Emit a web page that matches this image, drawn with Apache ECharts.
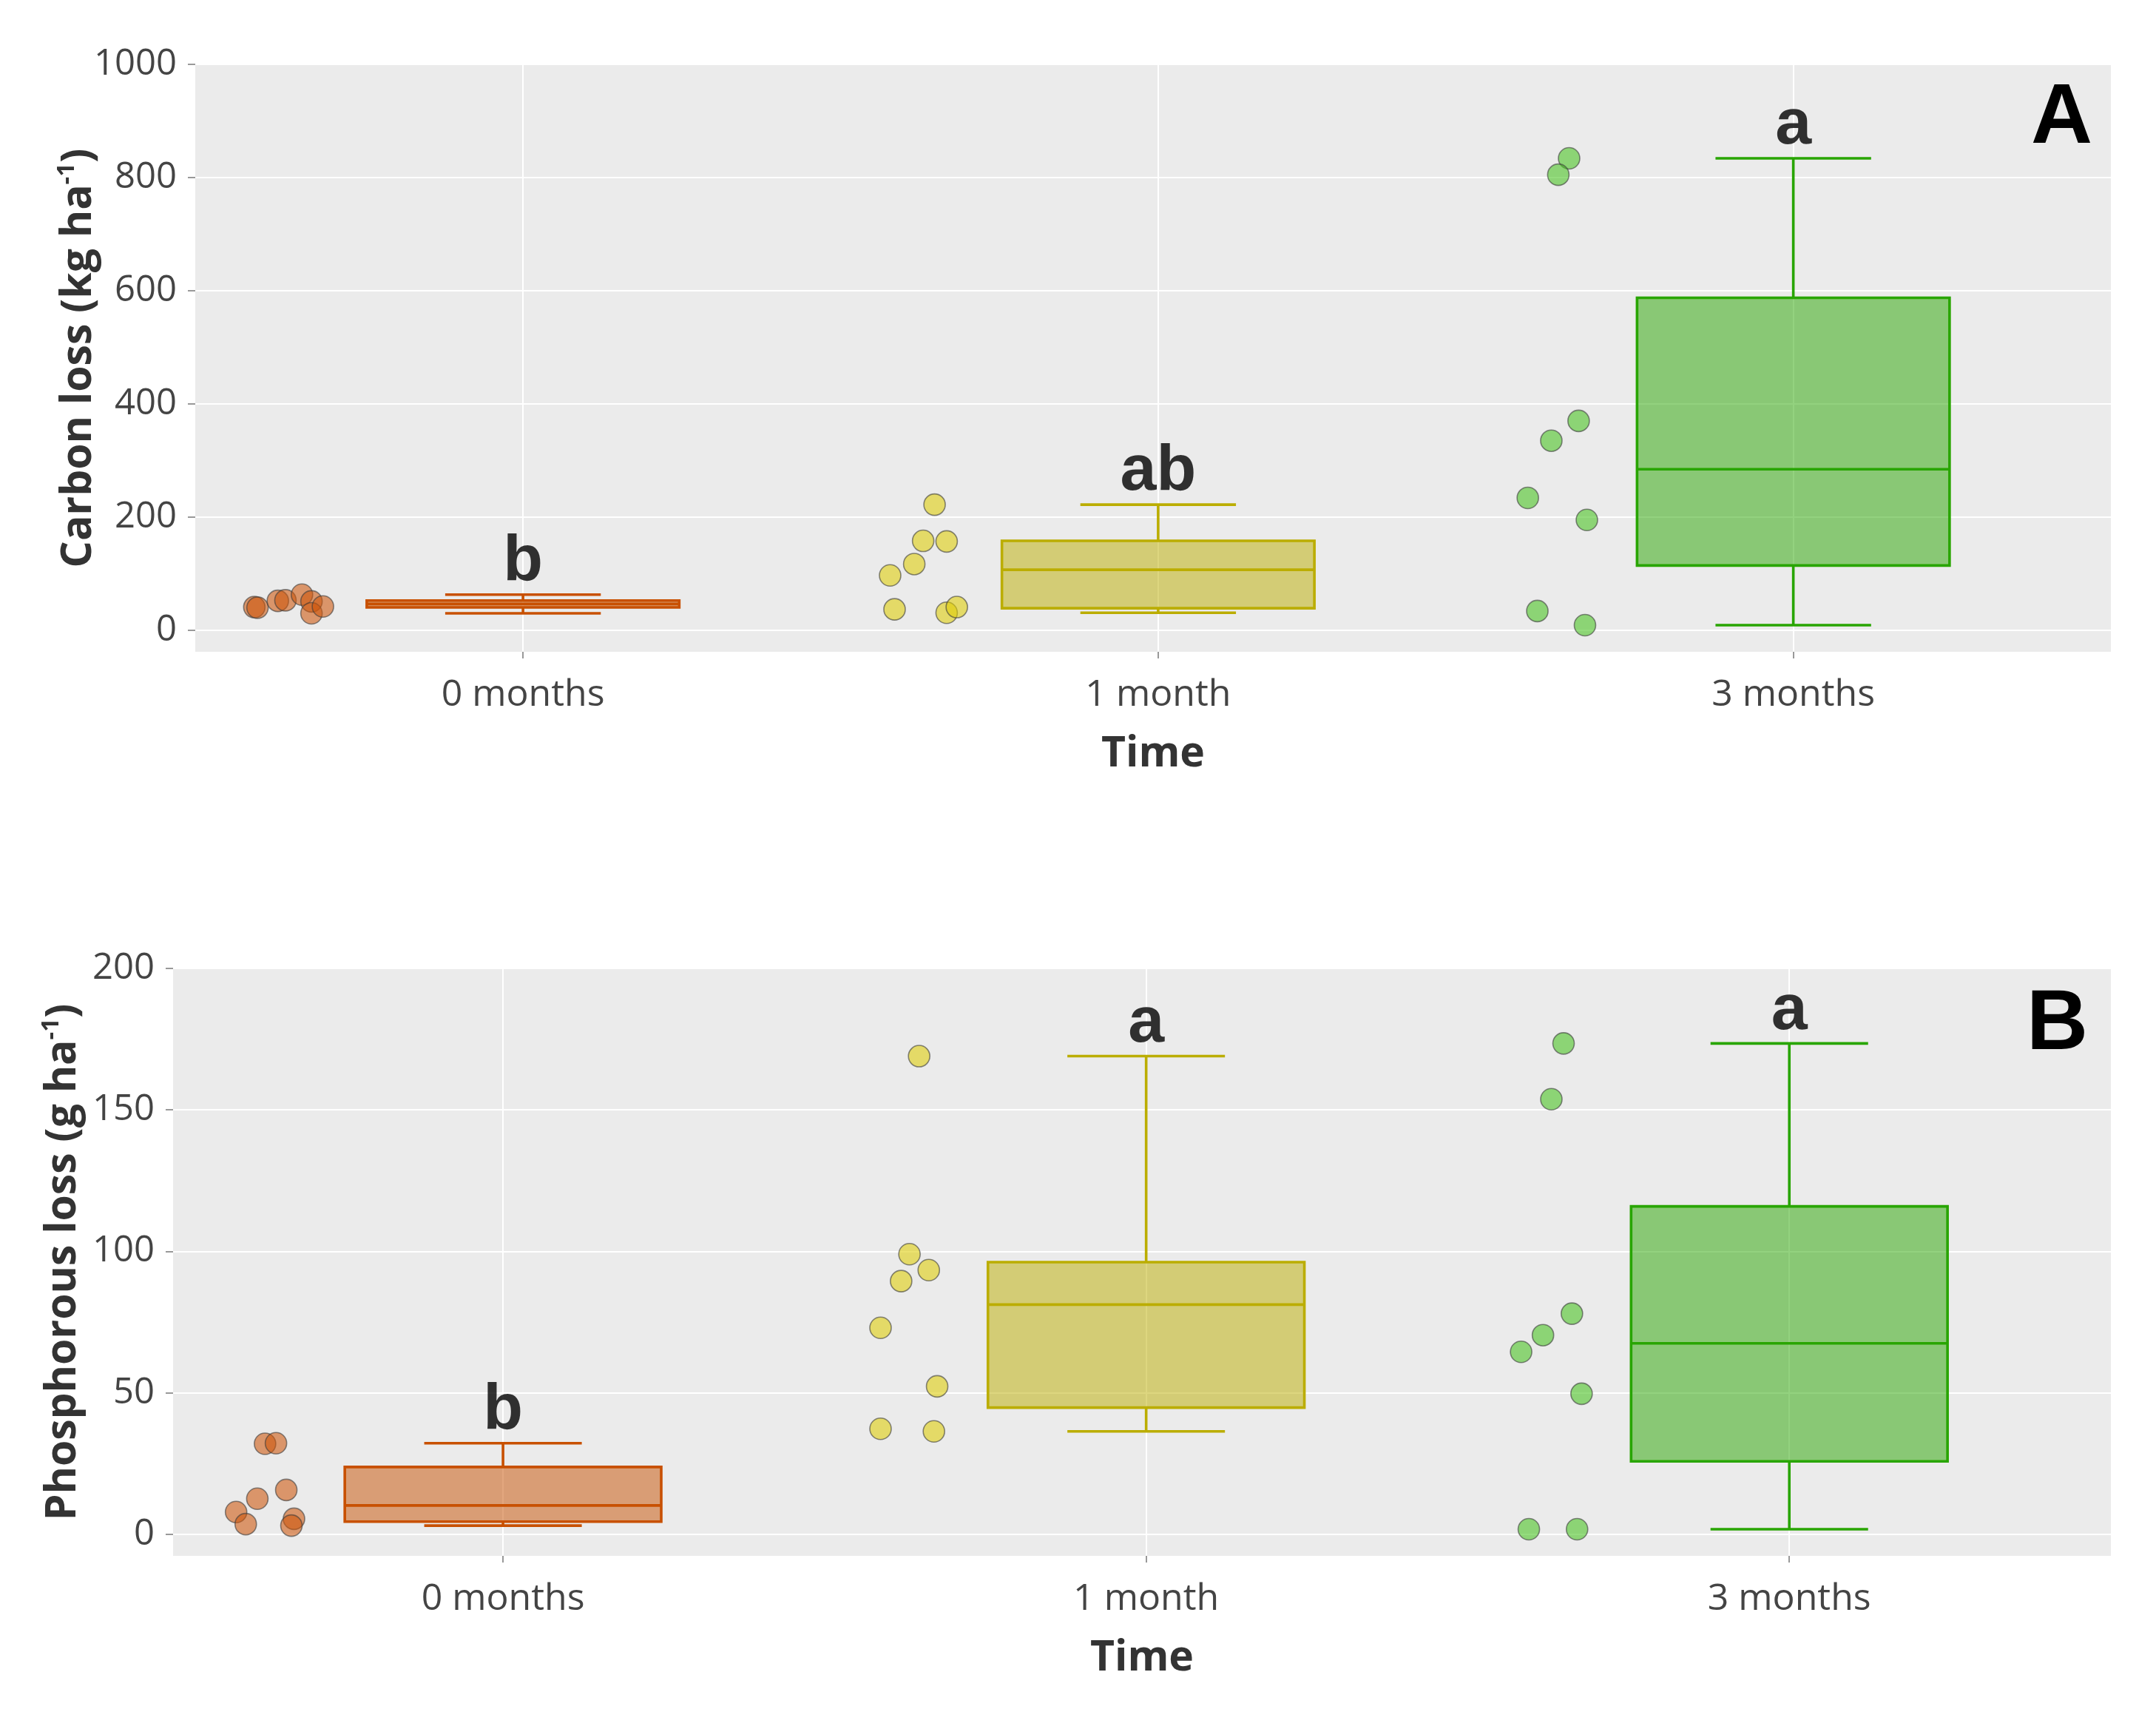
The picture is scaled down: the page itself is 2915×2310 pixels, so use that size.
<!DOCTYPE html>
<html><head><meta charset="utf-8">
<script src="https://cdn.jsdelivr.net/npm/echarts@6/dist/echarts.min.js"></script>
<style>html,body{margin:0;padding:0;background:#fff}#chart{width:2915px;height:2310px}</style>
</head><body><div id="chart"></div>
<script>
// ---------------- data ----------------
const categories = ['0 months', '1 month', '3 months'];

// Panel A: Carbon loss (kg ha-1), individual samples
const carbon0m = [41, 40, 52, 53, 63, 51, 30, 42];
const carbon1m = [222, 158, 157, 117, 97, 37, 31, 41];
const carbon3m = [834, 805, 370, 335, 234, 195, 34, 9];
// horizontal jitter of the sample points (category units)
const carbonJitter0m = [-0.423, -0.418, -0.386, -0.374, -0.348, -0.333, -0.333, -0.315];
const carbonJitter1m = [-0.352, -0.370, -0.333, -0.384, -0.422, -0.415, -0.333, -0.317];
const carbonJitter3m = [-0.353, -0.370, -0.338, -0.381, -0.418, -0.325, -0.403, -0.328];
// box statistics [min, Q1, median, Q3, max]
const carbonBox0m = [30, 40.5, 46.5, 52.5, 63];
const carbonBox1m = [31, 39, 107, 158, 222];
const carbonBox3m = [9, 114.5, 284.5, 587.5, 834];
const carbonLetters = ['b', 'ab', 'a'];
const carbonTicks = [0, 200, 400, 600, 800, 1000];

// Panel B: Phosphorous loss (g ha-1)
const phos0m = [32.0, 32.2, 15.7, 12.6, 7.9, 3.6, 5.5, 3.1];
const phos1m = [169, 99, 93.4, 89.5, 73, 52.3, 37.3, 36.4];
const phos3m = [173.5, 153.8, 78, 70.4, 64.5, 49.7, 1.8, 1.8];
const phosJitter0m = [-0.370, -0.353, -0.337, -0.382, -0.415, -0.400, -0.325, -0.329];
const phosJitter1m = [-0.353, -0.368, -0.338, -0.381, -0.413, -0.325, -0.413, -0.330];
const phosJitter3m = [-0.351, -0.370, -0.338, -0.383, -0.417, -0.323, -0.405, -0.330];
const phosBox0m = [3.1, 4.5, 10.2, 23.8, 32.2];
const phosBox1m = [36.4, 44.8, 81.2, 96.2, 169];
const phosBox3m = [1.8, 25.8, 67.5, 115.9, 173.5];
const phosLetters = ['b', 'a', 'a'];
const phosTicks = [0, 50, 100, 150, 200];

// ---------------- styles ----------------
const LINE = ['#C85000', '#BBAD00', '#28A500'];
const FILL = ['rgba(200,80,0,0.5)', 'rgba(187,173,0,0.5)', 'rgba(40,165,0,0.5)'];
const MARK = ['rgba(205,85,10,0.72)', 'rgba(222,205,5,0.72)', 'rgba(70,195,30,0.72)'];
const BOX_HALF = 0.246, CAP_HALF = 0.1225;
const FONT = '"Open Sans", "DejaVu Sans", sans-serif';
const LETTER_FONT = '"Liberation Sans", Arial, sans-serif';

function boxRenderer(params, api) {
  const x = api.value(0);
  const lo = api.value(1), q1 = api.value(2), med = api.value(3), q3 = api.value(4), hi = api.value(5);
  const g = params.dataIndex;
  const tl = api.coord([x - BOX_HALF, q3]);
  const br = api.coord([x + BOX_HALF, q1]);
  const mL = api.coord([x - BOX_HALF, med]);
  const mR = api.coord([x + BOX_HALF, med]);
  const pHi = api.coord([x, hi]);
  const pLo = api.coord([x, lo]);
  const cL = api.coord([x - CAP_HALF, hi]);
  const cR = api.coord([x + CAP_HALF, hi]);
  const dL = api.coord([x - CAP_HALF, lo]);
  const dR = api.coord([x + CAP_HALF, lo]);
  const ls = {stroke: LINE[g], lineWidth: 3.6, fill: null};
  return {type: 'group', children: [
    {type: 'line', shape: {x1: pHi[0], y1: pHi[1], x2: pHi[0], y2: tl[1]}, style: ls},
    {type: 'line', shape: {x1: pLo[0], y1: br[1], x2: pLo[0], y2: pLo[1]}, style: ls},
    {type: 'line', shape: {x1: cL[0], y1: cL[1], x2: cR[0], y2: cR[1]}, style: ls},
    {type: 'line', shape: {x1: dL[0], y1: dL[1], x2: dR[0], y2: dR[1]}, style: ls},
    {type: 'rect', shape: {x: tl[0], y: tl[1], width: br[0] - tl[0], height: br[1] - tl[1]},
      style: {fill: FILL[g], stroke: LINE[g], lineWidth: 3.6}},
    {type: 'line', shape: {x1: mL[0], y1: mL[1], x2: mR[0], y2: mR[1]}, style: ls}
  ]};
}

function panelSeries(gi, values, jitters, boxes, letters) {
  const s = [];
  for (let g = 0; g < 3; g++) {
    s.push({
      type: 'scatter', xAxisIndex: gi, yAxisIndex: gi, silent: true, clip: false,
      symbolSize: 29, z: 3,
      itemStyle: {color: MARK[g], borderColor: 'rgba(60,60,60,0.75)', borderWidth: 1.6},
      data: values[g].map((v, k) => [g + jitters[g][k], v])
    });
  }
  s.push({
    type: 'custom', xAxisIndex: gi, yAxisIndex: gi, silent: true, z: 2,
    renderItem: boxRenderer,
    encode: {x: 0, y: [1, 2, 3, 4, 5]},
    data: boxes.map((b, g) => [g].concat(b))
  });
  s.push({
    type: 'scatter', xAxisIndex: gi, yAxisIndex: gi, silent: true, z: 4,
    symbolSize: 0.1, itemStyle: {color: 'transparent'},
    label: {show: true, position: 'top', distance: 0,
      formatter: p => letters[p.dataIndex],
      fontFamily: LETTER_FONT, fontWeight: 'bold', fontSize: 88, color: '#000'},
    data: boxes.map((b, g) => [g, b[4]])
  });
  return s;
}

function xAxisFor(gi, min) {
  return {
    type: 'value', gridIndex: gi, min: min, max: 2.5,
    name: 'Time', nameLocation: 'middle', nameGap: 110, nameMoveOverlap: false,
    nameTextStyle: {fontFamily: FONT, fontWeight: 'bold', fontSize: 57, color: '#333'},
    axisLine: {show: false, onZero: false},
    axisTick: {show: true, length: 9, customValues: [0, 1, 2], lineStyle: {color: '#999', width: 2}},
    axisLabel: {customValues: [0, 1, 2], formatter: v => categories[Math.round(v)],
      fontFamily: FONT, fontSize: 50, color: '#444', margin: 34},
    splitLine: {show: true, lineStyle: {color: '#fff', width: 2}}
  };
}

function yAxisFor(gi, min, max, ticks, title, gap) {
  return {
    type: 'value', gridIndex: gi, min: min, max: max,
    name: '{t|' + title + '}{s|-1}{t|)}', nameLocation: 'middle', nameGap: gap, nameRotate: 90,
    nameMoveOverlap: false,
    nameTextStyle: {rich: {
      t: {fontFamily: FONT, fontWeight: 'bold', fontSize: 57, color: '#333', lineHeight: 66},
      s: {fontFamily: FONT, fontWeight: 'bold', fontSize: 33, color: '#333', verticalAlign: 'top', lineHeight: 36}
    }},
    axisLine: {show: false, onZero: false},
    axisTick: {show: true, length: 10, customValues: ticks, lineStyle: {color: '#999', width: 2}},
    axisLabel: {customValues: ticks, formatter: v => String(v),
      fontFamily: FONT, fontSize: 49, color: '#444', margin: 25},
    splitLine: {show: true, lineStyle: {color: '#fff', width: 2}}
  };
}

const chart = echarts.init(document.getElementById('chart'), null, {renderer: 'canvas'});
chart.setOption({
  animation: false,
  backgroundColor: '#fff',
  grid: [
    {left: 264, right: 61, top: 87, height: 794, show: true, backgroundColor: '#EBEBEB', borderWidth: 0, containLabel: false, outerBoundsMode: 'none'},
    {left: 234, right: 61, top: 1309, height: 794, show: true, backgroundColor: '#EBEBEB', borderWidth: 0, containLabel: false, outerBoundsMode: 'none'}
  ],
  xAxis: [xAxisFor(0, -0.516), xAxisFor(1, -0.513)],
  yAxis: [
    yAxisFor(0, -38, 1000, carbonTicks, 'Carbon loss (kg ha', 124),
    yAxisFor(1, -7.6, 200, phosTicks, 'Phosphorous loss (g ha', 115)
  ],
  graphic: [
    {type: 'text', right: 86, top: 104, style: {text: 'A', font: 'bold 115px "Liberation Sans", Arial, sans-serif', fill: '#000'}},
    {type: 'text', right: 92, top: 1329, style: {text: 'B', font: 'bold 115px "Liberation Sans", Arial, sans-serif', fill: '#000'}}
  ],
  series: []
    .concat(panelSeries(0, [carbon0m, carbon1m, carbon3m], [carbonJitter0m, carbonJitter1m, carbonJitter3m],
      [carbonBox0m, carbonBox1m, carbonBox3m], carbonLetters))
    .concat(panelSeries(1, [phos0m, phos1m, phos3m], [phosJitter0m, phosJitter1m, phosJitter3m],
      [phosBox0m, phosBox1m, phosBox3m], phosLetters))
});
</script></body></html>
